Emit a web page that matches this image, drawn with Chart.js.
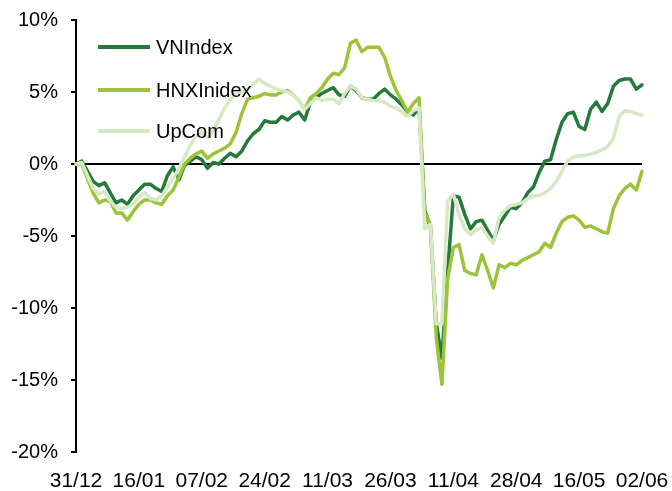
<!DOCTYPE html>
<html lang="en">
<head>
    <meta charset="UTF-8">
    <title>VNIndex / HNXInidex / UpCom YTD</title>
    <script src="https://cdn.jsdelivr.net/npm/chart.js@4"></script>
    <style>
        html, body { margin: 0; padding: 0; background: #fff; }
        #wrap { width: 672px; height: 491px; }
    </style>
</head>
<body>
    <div id="wrap"><canvas id="myChart" width="672" height="491"></canvas></div>

    <script>
        // Trading days (31/12 -> 02/06)
        const dates = [
            '31/12', '02/01', '03/01', '06/01', '07/01', '08/01', '09/01', '10/01', '13/01', '14/01', '15/01',
            '16/01', '17/01', '20/01', '21/01', '22/01', '23/01', '24/01', '03/02', '04/02', '05/02', '06/02',
            '07/02', '10/02', '11/02', '12/02', '13/02', '14/02', '17/02', '18/02', '19/02', '20/02', '21/02',
            '24/02', '25/02', '26/02', '27/02', '28/02', '03/03', '04/03', '05/03', '06/03', '07/03', '10/03',
            '11/03', '12/03', '13/03', '14/03', '17/03', '18/03', '19/03', '20/03', '21/03', '24/03', '25/03',
            '26/03', '27/03', '28/03', '31/03', '01/04', '02/04', '03/04', '04/04', '08/04', '09/04', '10/04',
            '11/04', '14/04', '15/04', '16/04', '17/04', '18/04', '21/04', '22/04', '23/04', '24/04', '25/04',
            '28/04', '29/04', '05/05', '06/05', '07/05', '08/05', '09/05', '12/05', '13/05', '14/05', '15/05',
            '16/05', '19/05', '20/05', '21/05', '22/05', '23/05', '26/05', '27/05', '28/05', '29/05', '30/05',
            '02/06'
        ];

        // Labels shown on the x axis
        const xTickLabels = ['31/12', '16/01', '07/02', '24/02', '11/03', '26/03', '11/04', '28/04', '16/05', '02/06'];

        // % change since 31/12
        const vnIndex = [
            0, 0.2, -0.5, -1.2, -1.5, -1.3, -2.0, -2.7, -2.5, -2.8, -2.2,
            -1.8, -1.4, -1.4, -1.7, -1.9, -0.8, -0.2, -1.1, -0.1, 0.2, 0.5,
            0.3, -0.3, 0.1, 0.0, 0.4, 0.75, 0.5, 0.9, 1.6, 2.1, 2.4,
            3.0, 2.9, 2.9, 3.3, 3.05, 3.4, 3.6, 3.05, 4.3, 4.6, 4.9,
            5.1, 5.3, 4.8, 4.7, 5.4, 5.1, 4.6, 4.5, 4.5, 4.9, 5.2,
            4.8, 4.5, 4.1, 3.6, 3.4, 3.9, -3.2, -4.4, -11.0, -13.5, -7.5,
            -2.2, -2.3, -3.5, -4.5, -4.0, -3.9, -4.6, -5.3, -4.2, -3.6, -3.0,
            -3.1, -2.7, -2.0, -1.6, -0.6, 0.2, 0.3, 1.7, 2.9, 3.5, 3.6,
            2.6, 2.4, 3.8, 4.3, 3.65, 4.2, 5.4, 5.8, 5.9, 5.9, 5.2,
            5.5
        ];
        const hnxIndex = [
            0, 0.0, -1.0, -2.0, -2.7, -2.5, -2.6, -3.4, -3.4, -3.9, -3.3,
            -2.8, -2.5, -2.5, -2.7, -2.8, -2.2, -1.8, -0.9, 0.0, 0.4, 0.7,
            0.9, 0.4, 0.7, 0.9, 1.1, 1.4, 2.2, 3.5, 4.5, 4.6, 4.7,
            4.9, 4.8, 4.8, 5.0, 5.1, 4.8, 4.4, 3.8, 4.6, 4.9, 5.3,
            5.9, 6.3, 6.2, 6.7, 8.4, 8.6, 7.8, 8.1, 8.1, 8.1, 7.4,
            6.1, 5.1, 4.4, 3.6, 4.2, 4.6, -3.4, -4.2, -12.0, -15.3, -8.0,
            -5.8, -5.6, -7.4, -7.6, -7.7, -6.3, -7.4, -8.6, -7.0, -7.2, -6.9,
            -7.0, -6.7, -6.5, -6.3, -6.1, -5.5, -5.8, -4.8, -4.0, -3.7, -3.6,
            -3.9, -4.4, -4.3, -4.5, -4.7, -4.8, -3.1, -2.2, -1.7, -1.4, -1.8,
            -0.5
        ];
        const upCom = [
            0, 0.1, -0.8, -1.7, -2.1, -1.9, -2.6, -3.0, -3.1, -3.0, -2.8,
            -2.3, -2.0, -2.4, -2.5, -2.2, -1.6, -1.0, -0.3, 0.5, 1.3, 1.9,
            2.2, 1.8, 2.3, 3.1, 3.9, 4.5, 4.8, 5.0, 5.2, 5.5, 5.9,
            5.6, 5.4, 5.2, 5.1, 5.0, 4.8, 4.4, 3.8, 4.2, 4.6, 4.4,
            4.5, 4.5, 4.2, 4.9, 5.4, 5.2, 4.6, 4.5, 4.4, 4.4, 4.3,
            4.0, 3.9, 3.6, 3.3, 3.7, 3.9, -4.5, -4.2, -11.1, -11.1, -2.6,
            -2.1, -3.5, -4.5, -4.9, -4.6, -4.4, -5.0, -5.5, -3.7, -3.2, -2.9,
            -2.8, -2.7, -2.4, -2.2, -2.2, -2.0, -1.7, -1.2, -0.5, 0.2, 0.5,
            0.55, 0.6, 0.7, 0.8, 1.0, 1.2, 1.8, 3.3, 3.7, 3.65, 3.5,
            3.4
        ];

        const FONT = "'Liberation Sans', Arial, sans-serif";

        // legend drawn inside the plot, stacked vertically
        const insideLegend = {
            id: 'insideLegend',
            afterDraw(chart) {
                const ctx = chart.ctx;
                const rows = [47, 90, 131];
                ctx.save();
                ctx.font = '20px ' + FONT;
                ctx.textBaseline = 'middle';
                ctx.fillStyle = '#000';
                chart.data.datasets.forEach((ds, i) => {
                    ctx.strokeStyle = ds.borderColor;
                    ctx.lineWidth = 4;
                    ctx.beginPath();
                    ctx.moveTo(98, rows[i]);
                    ctx.lineTo(150, rows[i]);
                    ctx.stroke();
                    ctx.fillText(ds.label, 156, rows[i] + 1);
                });
                ctx.restore();
            }
        };

        const ctx = document.getElementById('myChart').getContext('2d');
        new Chart(ctx, {
            type: 'line',
            data: {
                labels: dates,
                datasets: [
                    { label: 'VNIndex', data: vnIndex, borderColor: '#237a3b', order: 2 },
                    { label: 'HNXInidex', data: hnxIndex, borderColor: '#9cc43b', order: 1 },
                    { label: 'UpCom', data: upCom, borderColor: '#d7e9c3', order: 0 }
                ]
            },
            options: {
                responsive: false,
                animation: false,
                layout: { padding: { top: 20, right: 30, left: 0, bottom: 0 } },
                elements: {
                    line: { borderWidth: 3.5, tension: 0, borderJoinStyle: 'round', borderCapStyle: 'round' },
                    point: { radius: 0 }
                },
                scales: {
                    x: {
                        afterFit: s => { s.height = 39; s.paddingLeft = 0; s.paddingRight = 0; },
                        grid: { display: false, drawTicks: false },
                        border: { display: false },
                        ticks: {
                            autoSkip: false,
                            maxRotation: 0,
                            padding: 17,
                            color: '#000',
                            font: { family: FONT, size: 21 },
                            callback: function (val, idx) {
                                const lab = dates[idx];
                                return xTickLabels.includes(lab) ? lab : null;
                            }
                        }
                    },
                    y: {
                        min: -20,
                        max: 10,
                        afterFit: s => { s.width = 76; s.paddingTop = 0; s.paddingBottom = 0; },
                        grid: {
                            drawOnChartArea: true,
                            drawTicks: true,
                            tickLength: 5,
                            tickColor: '#000',
                            lineWidth: 2,
                            color: c => (c.tick && c.tick.value === 0) ? '#000' : 'rgba(0,0,0,0)'
                        },
                        border: { display: true, color: '#000', width: 2 },
                        ticks: {
                            stepSize: 5,
                            padding: 13,
                            color: '#000',
                            font: { family: FONT, size: 20 },
                            callback: v => v + '%'
                        }
                    }
                },
                plugins: {
                    legend: { display: false },
                    tooltip: { enabled: false }
                }
            },
            plugins: [insideLegend]
        });
    </script>
</body>
</html>
